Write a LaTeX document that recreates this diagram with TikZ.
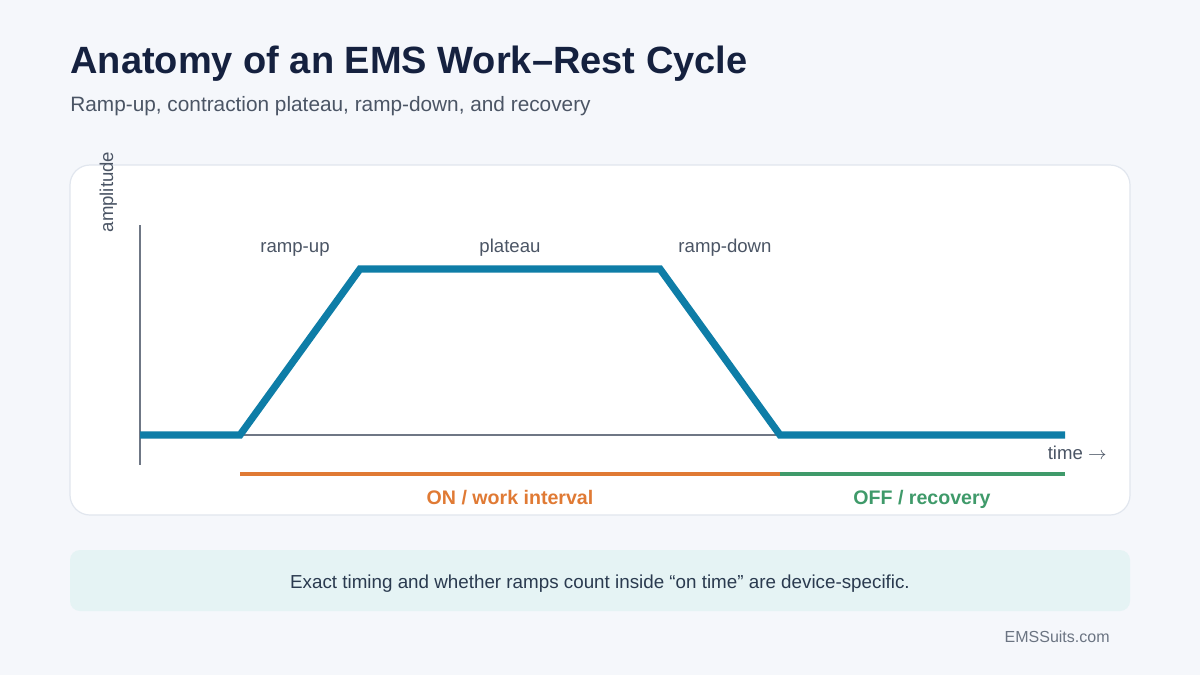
\documentclass[tikz,border=0pt]{standalone}
\usepackage{fontspec}
\setmainfont{Liberation Sans}
\usetikzlibrary{positioning,calc}
\definecolor{pagebg}{HTML}{F5F7FB}
\definecolor{titlecol}{HTML}{15213F}
\definecolor{textgray}{HTML}{4B5565}
\definecolor{cardline}{HTML}{E1E6EE}
\definecolor{axisgray}{HTML}{6F7785}
\definecolor{signal}{HTML}{0E7DA7}
\definecolor{onorange}{HTML}{E07A34}
\definecolor{offgreen}{HTML}{3F9A6A}
\definecolor{notefill}{HTML}{E5F3F4}
\definecolor{notetext}{HTML}{2A3A4F}
\definecolor{footgray}{HTML}{6B7482}
\tikzset{
  card/.style    = {draw=cardline, fill=white, line width=0.6pt, rounded corners=10pt},
  notebox/.style = {fill=notefill, rounded corners=5pt},
  lbl/.style     = {inner sep=0pt, anchor=base, text=textgray, font=\fontsize{9.3}{11}\selectfont},
  phase/.style   = {inner sep=0pt, anchor=base, font=\bfseries\fontsize{9.8}{12}\selectfont},
  wave/.style    = {signal, line width=3.6pt, line join=miter},
  axis/.style    = {axisgray, line width=0.9pt},
}

\begin{document}
\begin{tikzpicture}[x=0.5pt,y=-0.5pt]
\fill[pagebg] (0,0) rectangle (1200,675);
\useasboundingbox (0,0) rectangle (1200,675);
% heading
\node[inner sep=0pt, anchor=base west, text=titlecol, font=\bfseries\fontsize{19}{23}\selectfont] (title) at (70,73) {Anatomy of an EMS Work–Rest Cycle};
\node[inner sep=0pt, anchor=base west, text=textgray, font=\fontsize{10.4}{12}\selectfont] (subtitle) at (70,111) {Ramp-up, contraction plateau, ramp-down, and recovery};
% chart card
\draw[card] (70,165) rectangle (1130,515);
\coordinate (ytop) at (140,225);
\coordinate (origin) at (140,465);
\coordinate (base0) at (140,435);
\coordinate (rise0) at (240,435);
\coordinate (rise1) at (360,269);
\coordinate (fall0) at (660,269);
\coordinate (fall1) at (780,435);
\coordinate (base1) at (1065,435);
\draw[axis] (ytop) -- (origin);
\draw[axisgray, line width=0.7pt] (base0) -- (base1);
\draw[wave] (base0) -- (rise0) -- (rise1) -- (fall0) -- (fall1) -- (base1);
\node[lbl, rotate=90] (amp) at (113,192) {amplitude};
\node[lbl] (rampup) at (295,252) {ramp-up};
\node[lbl] (plateau) at (510,252) {plateau};
\node[lbl] (rampdown) at (725,252) {ramp-down};
\node[lbl, anchor=base east] (time) at (1107,459) {time $\rightarrow$};
% phases
\coordinate (on0) at (240,474);
\coordinate (on1) at (780,474);
\coordinate (off1) at (1065,474);
\draw[onorange, line width=2pt] (on0) -- (on1);
\draw[offgreen, line width=2pt] (on1) -- (off1);
\node[phase, text=onorange] (onlbl) at (510,504) {ON / work interval};
\node[phase, text=offgreen] (offlbl) at (922,504) {OFF / recovery};
% note
\fill[notebox] (70,550) rectangle (1130,611);
\node[inner sep=0pt, anchor=base, text=notetext, font=\fontsize{9.4}{11}\selectfont] (note) at (600,588) {Exact timing and whether ramps count inside “on time” are device-specific.};
\node[inner sep=0pt, anchor=base east, text=footgray, font=\fontsize{8}{10}\selectfont] (foot) at (1110,642) {EMSSuits.com};
\end{tikzpicture}
\end{document}
